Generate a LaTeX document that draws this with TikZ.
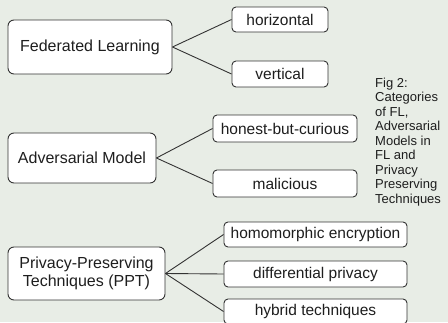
\documentclass[tikz,border=0pt]{standalone}
\usepackage{fontspec}
\setmainfont{Liberation Sans}
\definecolor{bgc}{RGB}{232,237,230}
\definecolor{linec}{RGB}{51,51,51}
\definecolor{textc}{RGB}{30,30,30}
\begin{document}
\begin{tikzpicture}[x=1pt,y=-1pt,
  box/.style={draw=linec,fill=white,rounded corners=4pt,line width=0.9pt,inner sep=0pt,align=center,text=textc},
  mainbox/.style={box,rounded corners=6pt,font=\fontsize{16}{18}\selectfont},
  leafbox/.style={box,font=\fontsize{15.5}{18}\selectfont},
  conn/.style={draw=linec,line width=0.9pt}]
\useasboundingbox (0,0) rectangle (448,322);
\fill[bgc] (0,0) rectangle (448,322);
\clip (0,0) rectangle (448,322);
% main boxes
\node[mainbox,minimum width=164pt,minimum height=54pt] (fl) at (90,47) {Federated Learning};
\node[mainbox,minimum width=148pt,minimum height=50pt] (am) at (82,158) {Adversarial Model};
\node[mainbox,minimum width=157pt,minimum height=53pt] (ppt) at (86.5,273.5) {Privacy-Preserving\\Techniques (PPT)};
% leaves
\node[leafbox,minimum width=96pt,minimum height=25pt] (hor) at (280,19.5) {horizontal};
\node[leafbox,minimum width=96pt,minimum height=26pt] (ver) at (280,74) {vertical};
\node[leafbox,minimum width=144pt,minimum height=27pt] (hbc) at (285,128.5) {honest-but-curious};
\node[leafbox,minimum width=144pt,minimum height=27pt] (mal) at (285,183.5) {malicious};
\node[leafbox,minimum width=183pt,minimum height=25pt] (he) at (315.5,234.5) {homomorphic encryption};
\node[leafbox,minimum width=183pt,minimum height=26pt] (dp) at (315.5,274) {differential privacy};
\node[leafbox,minimum width=183pt,minimum height=25pt] (ht) at (315.5,311.5) {hybrid techniques};
% connectors
\draw[conn] (fl.east) -- (hor.west);
\draw[conn] (fl.east) -- (ver.west);
\draw[conn] (am.east) -- (hbc.west);
\draw[conn] (am.east) -- (mal.west);
\draw[conn] (ppt.east) -- (he.west);
\draw[conn] (ppt.east) -- (dp.west);
\draw[conn] (ppt.east) -- (ht.west);
% caption
\node[anchor=north west,inner sep=0pt,align=left,text=textc,font=\fontsize{13}{14.5}\selectfont] (cap) at (375,77.5)
  {Fig 2:\\Categories\\of FL,\\Adversarial\\Models in\\FL and\\Privacy\\Preserving\\Techniques};
\end{tikzpicture}
\end{document}
